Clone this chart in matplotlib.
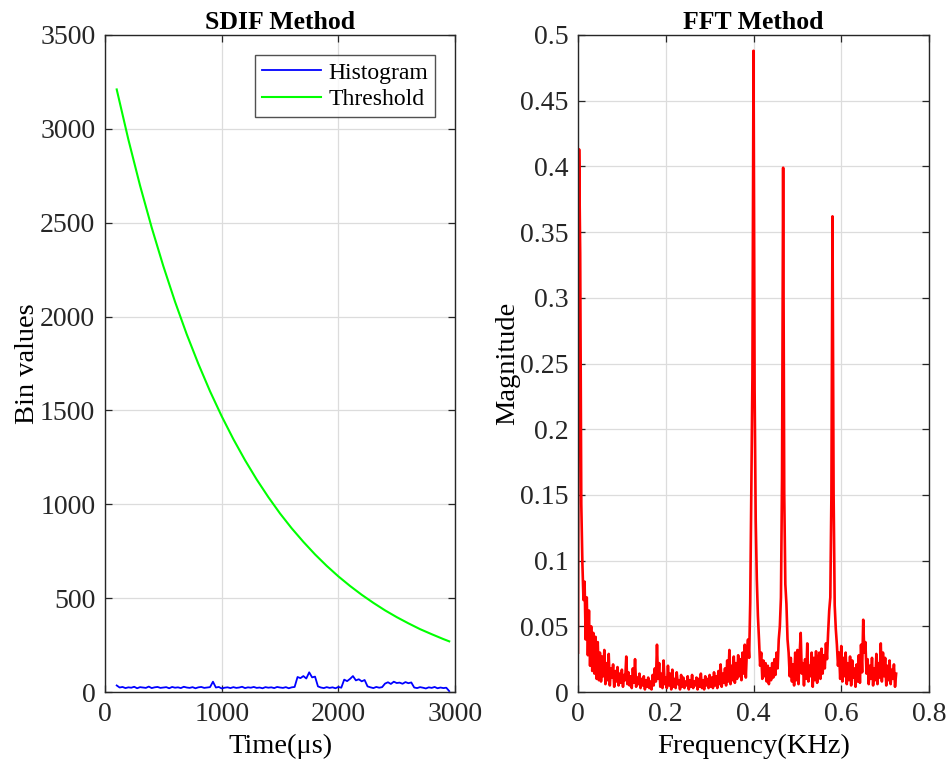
import numpy as np
import matplotlib
matplotlib.use("Agg")
import matplotlib.pyplot as plt
from matplotlib.ticker import FuncFormatter

plt.rcParams['font.family'] = ['Liberation Serif', 'DejaVu Serif']

# ---- SDIF data ----
t_start, t_step = 100, 25
hist_vals = [35, 24, 27, 21, 25, 23, 28, 20, 26, 24, 22, 29, 21, 25, 27, 22, 24, 26, 20, 27,
             23, 25, 21, 28, 24, 22, 26, 20, 25, 27, 22, 24, 26, 55, 24, 27, 19, 23, 25, 21,
             26, 22, 24, 28, 21, 25, 23, 27, 22, 24, 20, 26, 23, 25, 21, 27, 24, 22, 26, 20,
             25, 27, 80, 74, 85, 72, 105, 78, 82, 30, 24, 21, 26, 22, 25, 20, 27, 23, 66, 58,
             70, 85, 62, 68, 57, 64, 30, 25, 21, 27, 23, 26, 45, 52, 43, 55, 48, 50, 44, 53,
             47, 51, 24, 21, 26, 23, 19, 25, 22, 27, 20, 24, 21, 23, 5]

thr_time = [100, 200, 300, 400, 500, 600, 700, 800, 900, 1000, 1100, 1200, 1300, 1400, 1500,
            1600, 1700, 1800, 1900, 2000, 2100, 2200, 2300, 2400, 2500, 2600, 2700, 2800, 2900, 2950]
thr_vals = [3210, 2943, 2698, 2474, 2268, 2079, 1906, 1748, 1602, 1469, 1347, 1235, 1132, 1038, 951,
            872, 800, 733, 672, 616, 565, 518, 475, 435, 399, 366, 335, 308, 282, 270]

# ---- FFT data, magnitude in thousandths, one value per 0.0025 KHz ----
f_step = 0.0025
mag_milli = [
    30, 413, 334, 143, 98, 70, 84, 40, 72, 28, 62, 20, 50, 16, 45, 14, 42, 10, 38, 9,
    30, 8, 27, 12, 32, 6, 22, 9, 29, 5, 18, 11, 21, 4, 16, 8, 19, 5, 14, 7,
    17, 4, 13, 9, 27, 6, 15, 5, 12, 3, 18, 7, 25, 4, 11, 6, 14, 3, 10, 5,
    12, 2, 9, 4, 11, 3, 8, 2, 13, 5, 18, 8, 36, 10, 22, 4, 14, 3, 24, 6,
    11, 3, 20, 5, 14, 2, 17, 4, 10, 3, 15, 6, 9, 2, 13, 4, 11, 3, 8, 5,
    12, 2, 9, 4, 13, 3, 8, 5, 11, 2, 10, 4, 14, 3, 9, 2, 12, 5, 10, 3,
    13, 4, 11, 3, 15, 5, 12, 3, 16, 6, 21, 4, 14, 7, 18, 5, 24, 8, 32, 6,
    20, 9, 27, 7, 22, 10, 28, 12, 25, 9, 30, 14, 36, 11, 32, 40, 26, 68, 154, 240,
    488, 230, 131, 86, 58, 40, 20, 30, 10, 24, 12, 22, 8, 20, 6, 18, 9, 22, 11, 25,
    13, 30, 18, 40, 50, 72, 163, 399, 151, 82, 67, 40, 30, 12, 26, 8, 21, 5, 30, 9,
    32, 6, 28, 45, 14, 22, 5, 25, 10, 37, 8, 20, 12, 30, 4, 26, 9, 31, 7, 22,
    30, 10, 33, 14, 28, 18, 37, 25, 45, 62, 72, 150, 362, 151, 66, 48, 36, 20, 30, 10,
    35, 8, 26, 12, 30, 6, 22, 9, 27, 5, 24, 11, 18, 4, 21, 8, 28, 7, 36, 15,
    55, 30, 38, 14, 25, 6, 20, 10, 26, 5, 18, 9, 29, 6, 22, 11, 37, 8, 30, 12,
    26, 5, 20, 9, 24, 6, 17, 10, 21, 4, 14]

hist_time = t_start + t_step * np.arange(len(hist_vals))
mag = np.array(mag_milli) / 1000.0
freq = f_step * np.arange(len(mag))

fig = plt.figure(figsize=(9.48, 7.69), dpi=100)
ax1 = fig.add_axes([0.1108, 0.1001, 0.3692, 0.8544])
ax2 = fig.add_axes([0.6097, 0.1001, 0.3703, 0.8544])


def matlab_style(ax):
    ax.grid(True, color='#dcdcdc', linewidth=0.9)
    ax.set_axisbelow(True)
    for s in ax.spines.values():
        s.set_color('#262626')
        s.set_linewidth(1.0)
    ax.tick_params(direction='in', top=True, right=True, labelsize=20,
                   length=5, width=0.9, colors='#262626', labelcolor='#262626', pad=7)


ax1.plot(hist_time, hist_vals, color='#0000ff', linewidth=1.3, label='Histogram')
ax1.plot(thr_time, thr_vals, color='#00ff00', linewidth=1.5, label='Threshold')
ax1.set_xlim(0, 3000)
ax1.set_ylim(0, 3500)
ax1.set_xticks([0, 1000, 2000, 3000])
ax1.set_yticks(np.arange(0, 3501, 500))
matlab_style(ax1)
ax1.set_title('SDIF Method', fontsize=18.5, fontweight='bold', pad=4)
ax1.set_xlabel('Time(μs)', fontsize=20.5, labelpad=5)
ax1.set_ylabel('Bin values', fontsize=20.5, labelpad=0)
leg = ax1.legend(loc='upper right', fontsize=17, frameon=True, fancybox=False,
                 edgecolor='#262626', handlelength=2.5, borderaxespad=0.85,
                 handletextpad=0.3, labelspacing=0.22, borderpad=0.3)
leg.get_frame().set_linewidth(1.0)

ax2.plot(freq, mag, color='#ff0000', linewidth=1.9)
ax2.set_xlim(0, 0.8)
ax2.set_ylim(0, 0.5)
ax2.set_xticks(np.arange(0, 0.81, 0.2))
ax2.set_yticks(np.arange(0, 0.501, 0.05))
fmt = FuncFormatter(lambda v, p: '%g' % round(v, 3))
ax2.xaxis.set_major_formatter(fmt)
ax2.yaxis.set_major_formatter(fmt)
matlab_style(ax2)
ax2.set_title('FFT Method', fontsize=18.5, fontweight='bold', pad=4)
ax2.set_xlabel('Frequency(KHz)', fontsize=20.5, labelpad=5)
ax2.set_ylabel('Magnitude', fontsize=20.5, labelpad=0)

fig.savefig('out.png', dpi=100)
